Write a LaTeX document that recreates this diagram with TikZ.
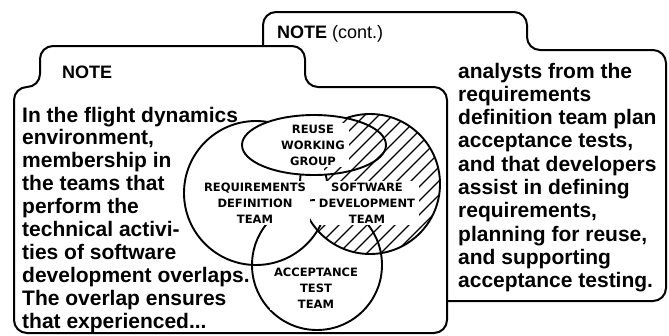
\documentclass[tikz,border=0pt]{standalone}
\usepackage{fontspec}
\usepackage{tikz}
\setmainfont{Liberation Sans}
\newfontfamily\teamfont{DejaVu Sans}
\usetikzlibrary{positioning}
\newcommand\trailingdots{...}
\tikzset{
    card/.style={draw, line width=2pt, fill=white, rounded corners=13pt},
    tabtitle/.style={anchor=west, inner sep=0pt, font=\fontsize{18}{18}\selectfont\bfseries},
    notetext/.style={anchor=base west, inner sep=0pt, font=\fontsize{21}{21}\selectfont\bfseries},
    team/.style={draw, line width=1.9pt},
    teamlabel/.style={align=center, fill=white, inner xsep=4pt, inner ysep=1.5pt, font=\teamfont\fontsize{11.5}{16}\selectfont\bfseries},
    hatch/.style={line width=1.2pt}
}

\begin{document}
\begin{tikzpicture}[x=1pt, y=-1pt]
                \useasboundingbox (0,0) rectangle (669,335);
                % cards
                \draw[card] (263,60) -- (263,12) -- (527,12) -- (527,50) -- (666,50) -- (666,301) -- (263,301) -- cycle;
                \draw[card] (14,200) -- (14,87) -- (40,87) -- (40,46) -- (305,46) -- (305,87) -- (447,87) -- (447,333) -- (14,333) -- cycle;
                \node[tabtitle] (note) at (62,72) {NOTE};
                \node[tabtitle] (notecont) at (277,34) {NOTE \mdseries(cont.)};
                % left column
                \foreach \txt [count=\i] in {In the flight dynamics, {environment,}, membership in, the teams that, perform the, technical activi-, ties of software, development overlaps., The overlap ensures, that experienced\trailingdots}
                    \node[notetext] (left\i) at (22,{122+(\i-1)*22.9}) {\txt};
                % right column
                \foreach \txt [count=\i] in {analysts from the, requirements, definition team plan, {acceptance tests,}, and that developers, assist in defining, {requirements,}, {planning for reuse,}, and supporting, acceptance testing.}
                    \node[notetext] (right\i) at (458,{78+(\i-1)*23.3}) {\txt};
                % teams
                \draw[team] (256,193) circle [radius=72];
                \draw[team] (370,184) circle [radius=70];
                \draw[team] (317,265) circle [radius=65];
                \draw[team, fill=white] (314,145) ellipse [x radius=72, y radius=30];
                \begin{scope}[even odd rule]
                    \clip (370,184) circle [radius=70];
                    \clip (0,0) rectangle (669,335) (256,193) circle [radius=72];
                    \foreach \x in {140,154,...,450}
                        \draw[hatch] (\x,270) -- ++(170,-170);
                \end{scope}
                \node[teamlabel] (reuse) at (313,145) {REUSE\\WORKING\\GROUP};
                \node[teamlabel] (reqteam) at (255,203) {REQUIREMENTS\\DEFINITION\\TEAM};
                \node[teamlabel] (swteam) at (367,203) {SOFTWARE\\DEVELOPMENT\\TEAM};
                \node[teamlabel] (accteam) at (316,288) {ACCEPTANCE\\TEST\\TEAM};
            \end{tikzpicture}
\end{document}
